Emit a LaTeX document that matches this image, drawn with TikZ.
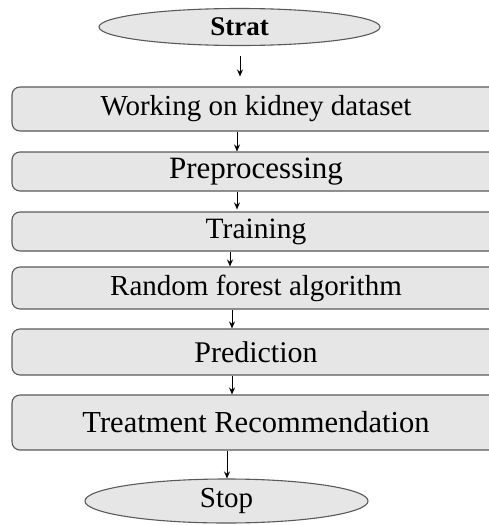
\documentclass[tikz,border=0pt]{standalone}
\usepackage{fontspec}
\setmainfont{Liberation Serif}
\usetikzlibrary{shapes.geometric,arrows.meta}
\definecolor{boxfill}{HTML}{E6E6E6}
\definecolor{boxline}{HTML}{5A5A5A}
\tikzset{
  stepbox/.style={draw=boxline, line width=1.1pt, fill=boxfill, rounded corners=8pt,
    minimum width=488pt, inner sep=0pt, anchor=center},
  term/.style={ellipse, draw=boxline, line width=1.1pt, fill=boxfill, inner sep=0pt},
  flow/.style={-{Stealth[length=7pt,width=6pt]}, line width=1pt, black},
  fs/.style={font=\fontsize{#1}{#1}\selectfont}
}
\begin{document}
\begin{tikzpicture}[x=1pt,y=-1pt]
\clip (0,0) rectangle (489,525);
\node[term, minimum width=281pt, minimum height=37pt, fs=27] (start) at (239.5,27) {\bfseries Strat};
\node[stepbox, minimum height=44pt, fs=29] (b1) at (256,109) {Working on kidney dataset};
\node[stepbox, minimum height=39pt, fs=31] (b2) at (256,171.5) {Preprocessing};
\node[stepbox, minimum height=39pt, fs=29.5] (b3) at (256,231.5) {Training};
\node[stepbox, minimum height=42pt, fs=29] (b4) at (256,288) {Random forest algorithm};
\node[stepbox, minimum height=46pt, fs=30] (b5) at (256,352) {Prediction};
\node[stepbox, minimum height=55pt, fs=30.5] (b6) at (256,422.5) {Treatment Recommendation};
\node[term, minimum width=283pt, minimum height=44pt, fs=29] (stop) at (226.5,501) {Stop};
\draw[flow, shorten <=10pt, shorten >=10pt] ([xshift=0.5pt]start.south) -- ([xshift=-16pt]b1.north);
\draw[flow] ([xshift=-19pt]b1.south) -- ([xshift=-19pt]b2.north);
\draw[flow, shorten >=2pt] ([xshift=-19pt]b2.south) -- ([xshift=-19pt]b3.north);
\draw[flow] ([xshift=-26pt]b3.south) -- ([xshift=-26pt]b4.north);
\draw[flow] ([xshift=-24pt]b4.south) -- ([xshift=-24pt]b5.north);
\draw[flow] ([xshift=-24pt]b5.south) -- ([xshift=-24pt]b6.north);
\draw[flow] ([xshift=-29pt]b6.south) -- ([xshift=0.5pt]stop.north);
\end{tikzpicture}
\end{document}
